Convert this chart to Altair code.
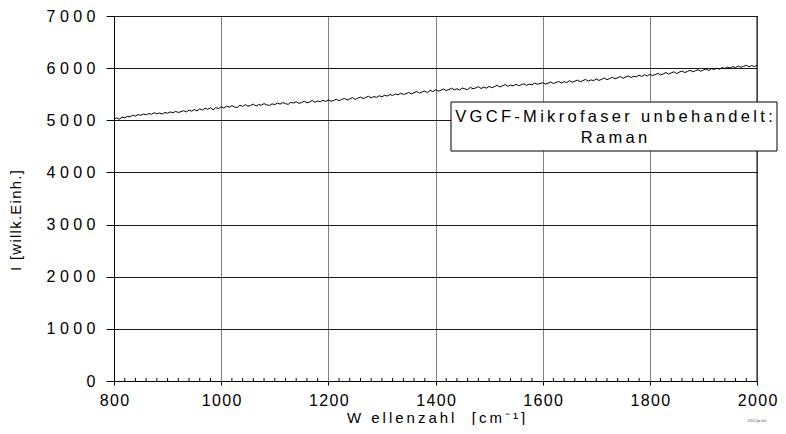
import altair as alt
import pandas as pd

# ---- data ----
wavenumber_start = 800
wavenumber_step = 5
intensity = [
    5030, 5045, 5020, 5060, 5050, 5075, 5065, 5100, 5080, 5110, 5095, 5120, 5105, 5130, 5115, 5145, 5125, 5140, 5120, 5150,
    5135, 5160, 5145, 5170, 5150, 5165, 5185, 5160, 5195, 5175, 5205, 5180, 5220, 5195, 5230, 5210, 5240, 5200, 5245, 5225,
    5260, 5235, 5270, 5250, 5280, 5255, 5245, 5290, 5265, 5300, 5270, 5285, 5310, 5275, 5300, 5290, 5320, 5295, 5285, 5315,
    5300, 5330, 5310, 5340, 5320, 5305, 5345, 5330, 5355, 5325, 5340, 5365, 5335, 5350, 5380, 5345, 5370, 5355, 5385, 5360,
    5390, 5365, 5380, 5405, 5375, 5400, 5420, 5390, 5410, 5435, 5400, 5425, 5445, 5415, 5440, 5460, 5430, 5455, 5440, 5470,
    5450, 5480, 5465, 5495, 5475, 5505, 5490, 5520, 5495, 5510, 5535, 5505, 5530, 5550, 5520, 5545, 5560, 5530, 5575, 5550,
    5585, 5560, 5575, 5600, 5570, 5590, 5615, 5585, 5605, 5580, 5620, 5600, 5590, 5630, 5605, 5620, 5645, 5610, 5635, 5615,
    5650, 5625, 5645, 5670, 5640, 5660, 5685, 5650, 5675, 5660, 5690, 5665, 5680, 5700, 5670, 5695, 5680, 5715, 5690, 5705,
    5720, 5695, 5710, 5735, 5705, 5725, 5745, 5715, 5740, 5725, 5760, 5730, 5750, 5770, 5740, 5760, 5785, 5750, 5775, 5760,
    5790, 5765, 5785, 5810, 5780, 5800, 5825, 5795, 5815, 5840, 5805, 5830, 5850, 5820, 5845, 5835, 5865, 5840, 5875, 5850,
    5880, 5860, 5875, 5900, 5870, 5890, 5915, 5885, 5910, 5930, 5895, 5925, 5945, 5915, 5935, 5960, 5930, 5950, 5970, 5940,
    5965, 5985, 5955, 5990, 5975, 6000, 5980, 6010, 5995, 6020, 6000, 6030, 6010, 6040, 6015, 6035, 6055, 6025, 6050, 6030,
    6055,
]
wavenumber = [wavenumber_start + wavenumber_step * i for i in range(len(intensity))]

x_ticks = [800, 1000, 1200, 1400, 1600, 1800, 2000]
x_minor_ticks = [v for v in range(820, 2000, 20) if v % 200 != 0]
y_ticks = [0, 1000, 2000, 3000, 4000, 5000, 6000, 7000]

annotation_lines = ["VGCF-Mikrofaser unbehandelt:", "Raman"]
x_title = "W ellenzahl  [cm⁻¹]"
y_title = "I [willk.Einh.]"
footnote = "010-5p.xls"

THIN = "\u2009"
HAIR = "\u200a"


def spaced(s, sep=THIN):
    return sep.join(list(s))


FONT = "Liberation Sans"
W, H = 643, 365
TOP = 8
LEFT = 106

df = pd.DataFrame({"wn": wavenumber, "I": intensity})
minor_df = pd.DataFrame({"wn": x_minor_ticks})

xscale = alt.Scale(domain=[800, 2000], nice=False, zero=False)
yscale = alt.Scale(domain=[0, 7000], nice=False)

x_enc = alt.X(
    "wn:Q",
    scale=xscale,
    title=spaced(x_title),
    axis=alt.Axis(
        values=x_ticks,
        format="d",
        grid=True,
        gridColor="#808080",
        gridWidth=1,
        tickSize=4,
        tickColor="black",
        domainColor="black",
        labelPadding=7,
        labelFontSize=16,
        labelFlush=False,
        labelOverlap=False,
        labelExpr="join(split(datum.label, ''), '" + HAIR + "')",
        titleFontSize=15,
        titleFontWeight="normal",
        titleY=41,
        titleBaseline="alphabetic",
    ),
)

y_enc = alt.Y(
    "I:Q",
    scale=yscale,
    title=spaced(y_title, HAIR),
    axis=alt.Axis(
        values=y_ticks,
        format="d",
        grid=True,
        gridColor="#1a1a1a",
        gridWidth=1,
        tickSize=8,
        tickColor="black",
        domainColor="black",
        labelPadding=11,
        labelFontSize=16,
        labelFlush=False,
        labelOverlap=False,
        labelExpr="join(split(datum.label, ''), ' ')",
        titleFontSize=15,
        titleFontWeight="normal",
        titleAngle=-90,
        titleX=-99,
        titleY=204,
        titleAlign="center",
        titleBaseline="middle",
    ),
)

line = alt.Chart(df).mark_line(color="black", strokeWidth=1, clip=True).encode(
    x=x_enc,
    y=y_enc,
)

minor = alt.Chart(minor_df).mark_rule(color="black", strokeWidth=1).encode(
    x=x_enc,
    y=alt.value(H - 3),
    y2=alt.value(H),
)

right_border = alt.Chart(pd.DataFrame({"wn": [2000]})).mark_rule(
    color="black", strokeWidth=1
).encode(
    x=x_enc,
)

box = alt.Chart(pd.DataFrame({"a": [0]})).mark_rect(
    fill="white", stroke="black", strokeWidth=1, clip=False
).encode(
    x=alt.value(337), x2=alt.value(663), y=alt.value(86), y2=alt.value(135)
)

ann1 = alt.Chart(pd.DataFrame({"t": [spaced(annotation_lines[0])]})).mark_text(
    font=FONT, fontSize=16.5, color="black", align="center", baseline="middle"
).encode(text="t:N", x=alt.value(500), y=alt.value(101))

ann2 = alt.Chart(pd.DataFrame({"t": [spaced(annotation_lines[1])]})).mark_text(
    font=FONT, fontSize=16.5, color="black", align="center", baseline="middle"
).encode(text="t:N", x=alt.value(500), y=alt.value(122))

foot = alt.Chart(pd.DataFrame({"t": [footnote]})).mark_text(
    font=FONT, fontSize=4, color="#555555", align="center", baseline="middle"
).encode(text="t:N", x=alt.value(643), y=alt.value(405))

chart = alt.layer(line, minor, right_border, box, ann1, ann2, foot).properties(
    width=W,
    height=H,
    autosize=alt.AutoSizeParams(type="none"),
    padding={"left": LEFT, "top": TOP, "right": 770 - LEFT - W, "bottom": 44},
).configure_view(stroke=None).configure_axis(
    labelFont=FONT,
    titleFont=FONT,
    labelColor="black",
    titleColor="black",
    titleFontWeight="normal",
).configure(background="white")

chart.save("out.html", embed_options={"renderer": "svg", "actions": False})
